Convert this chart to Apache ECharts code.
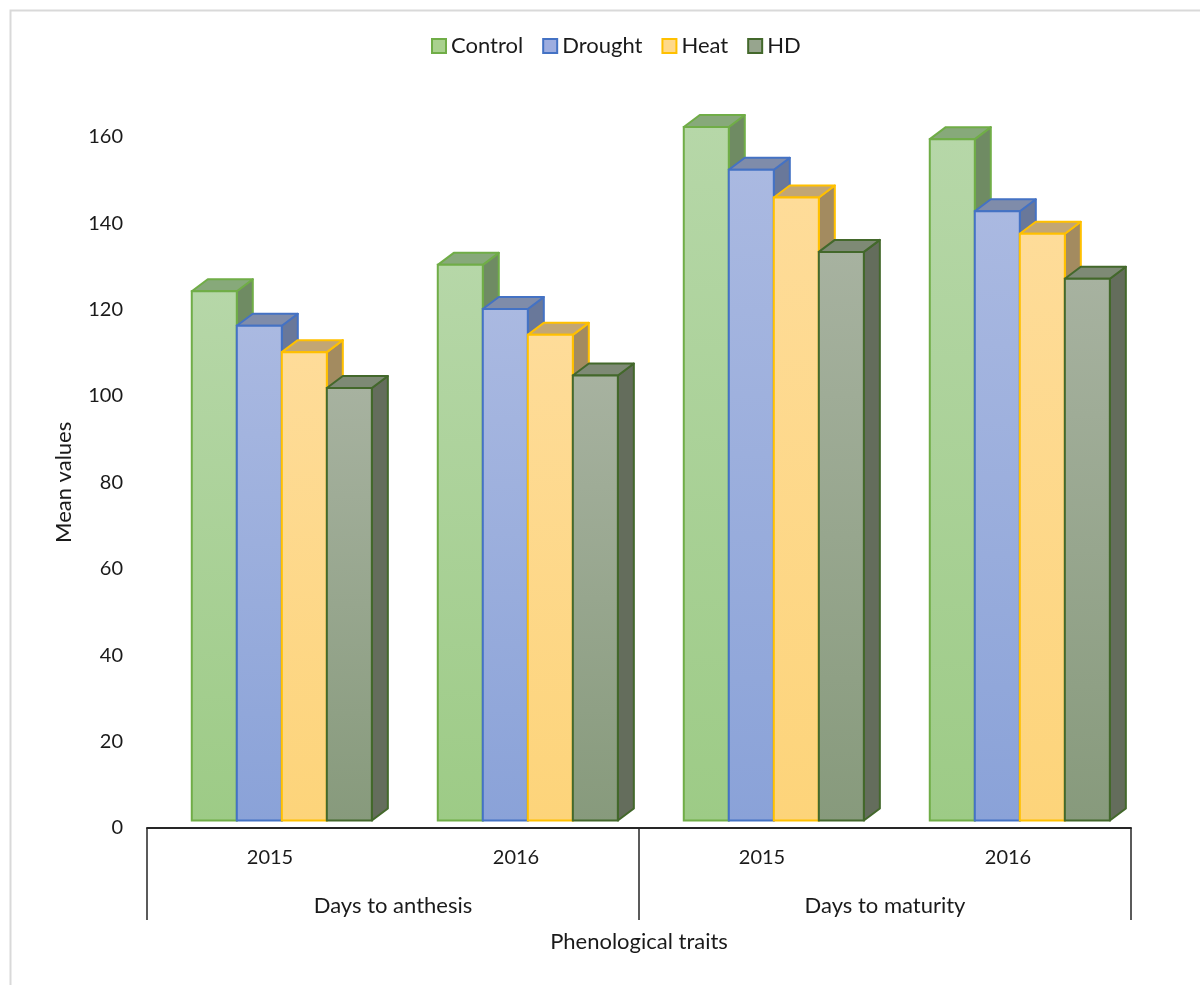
<!DOCTYPE html>
<html>
<head>
<meta charset="utf-8">
<script src="https://cdn.jsdelivr.net/npm/echarts@6/dist/echarts.min.js"></script>
<style>
html,body{margin:0;padding:0;background:#fff;}
#chart{width:1200px;height:985px;}
</style>
</head>
<body>
<div id="chart"></div>
<script>
// ---- data ----
const years = ['2015', '2016', '2015', '2016'];
const traits = ['Days to anthesis', 'Days to maturity'];
const seriesNames = ['Control', 'Drought', 'Heat', 'HD'];
const control = [122.5, 128.6, 160.5, 157.7];
const drought = [114.5, 118.4, 150.6, 141.0];
const heat = [108.4, 112.4, 144.2, 135.8];
const hd = [100.1, 103.0, 131.6, 125.4];
const yTicks = [0, 20, 40, 60, 80, 100, 120, 140, 160];

// ---- styles ----
const styles = [
  {top:'#b6d7a8', bottom:'#9dcb86', lid:'#87a97a', side:'#6f8b63', border:'#70ad47', legend:'#a9d18e'},
  {top:'#aab9e1', bottom:'#8aa2d8', lid:'#7f8caa', side:'#69789a', border:'#4472c4', legend:'#9dade0'},
  {top:'#fedc99', bottom:'#fdd47a', lid:'#c2a674', side:'#a38b60', border:'#ffc000', legend:'#ffd98a'},
  {top:'#a7b2a0', bottom:'#879a7c', lid:'#7e8a75', side:'#646d5c', border:'#43682b', legend:'#97a58e'}
];
const allValues = [control, drought, heat, hd];

const FONT = 'Lato';
const TXT = '#1a1a1a';

function makeRender(s) {
  const st = styles[s];
  return function (params, api) {
    const i = api.value(0), v = api.value(1);
    const base = api.coord([i, 0]);
    const tp = api.coord([i, v]);
    const band = api.size([1, 0])[0];
    const w = band * 0.183;
    const lift = 7.5, dx = 16, dy = 12;
    const x0 = base[0] - band * 0.318 + s * w;
    const yB = base[1] - lift;
    const yT = tp[1] - lift;
    const lw = 2;
    return {
      type: 'group',
      children: [
        {
          type: 'polygon',
          shape: {points: [[x0 + w, yT], [x0 + w + dx, yT - dy], [x0 + w + dx, yB - dy], [x0 + w, yB]]},
          style: {fill: st.side, stroke: st.border, lineWidth: lw, lineJoin: 'round'}
        },
        {
          type: 'polygon',
          shape: {points: [[x0, yT], [x0 + dx, yT - dy], [x0 + w + dx, yT - dy], [x0 + w, yT]]},
          style: {fill: st.lid, stroke: st.border, lineWidth: lw, lineJoin: 'round'}
        },
        {
          type: 'rect',
          shape: {x: x0, y: yT, width: w, height: yB - yT},
          style: {
            fill: new echarts.graphic.LinearGradient(0, 0, 0, 1, [
              {offset: 0, color: st.top}, {offset: 1, color: st.bottom}
            ]),
            stroke: st.border, lineWidth: lw
          }
        }
      ]
    };
  };
}

const series = seriesNames.map((name, s) => ({
  name: name,
  type: 'custom',
  xAxisIndex: 0,
  yAxisIndex: 0,
  clip: false,
  renderItem: makeRender(s),
  itemStyle: {color: styles[s].legend, borderColor: styles[s].border, borderWidth: 1.5},
  encode: {x: 0, y: 1},
  data: allValues[s].map((v, i) => [i, v])
}));

const chart = echarts.init(document.getElementById('chart'), null, {renderer: 'canvas'});
chart.setOption({
  backgroundColor: '#fff',
  animation: false,
  textStyle: {fontFamily: FONT},
  graphic: [{
    type: 'rect', left: 8, top: 8, z: -10,
    shape: {x: 0, y: 0, width: 1300, height: 1100},
    style: {fill: null, stroke: '#d9d9d9', lineWidth: 2}
  }],
  legend: {
    data: seriesNames,
    left: 431,
    top: 35,
    padding: 0,
    icon: 'rect',
    itemWidth: 14,
    itemHeight: 14,
    itemGap: 19,
    textStyle: {fontFamily: FONT, fontSize: 22, color: TXT}
  },
  grid: {left: 147, right: 69, top: 136.7, bottom: 157},
  xAxis: [
    {
      type: 'category',
      data: years,
      position: 'bottom',
      axisLine: {show: true, lineStyle: {color: '#262626', width: 2}},
      axisTick: {show: false},
      axisLabel: {fontFamily: FONT, fontSize: 20, color: TXT, margin: 20},
      splitLine: {show: false}
    },
    {
      type: 'category',
      data: traits,
      position: 'bottom',
      axisLine: {show: false},
      axisTick: {show: true, length: 92, lineStyle: {color: '#262626', width: 1.5}},
      axisLabel: {fontFamily: FONT, fontSize: 22, color: TXT, margin: 67},
      splitLine: {show: false},
      name: 'Phenological traits',
      nameLocation: 'middle',
      nameGap: 103,
      nameTextStyle: {fontFamily: FONT, fontSize: 22, color: TXT}
    }
  ],
  yAxis: {
    type: 'value',
    min: yTicks[0],
    max: yTicks[yTicks.length - 1],
    interval: 20,
    axisLine: {show: false},
    axisTick: {show: false},
    splitLine: {show: false},
    axisLabel: {fontFamily: FONT, fontSize: 20, color: TXT, margin: 24},
    name: 'Mean values',
    nameLocation: 'middle',
    nameGap: 72,
    nameRotate: 90,
    nameTextStyle: {fontFamily: FONT, fontSize: 22, color: TXT}
  },
  series: series
});
</script>
</body>
</html>
